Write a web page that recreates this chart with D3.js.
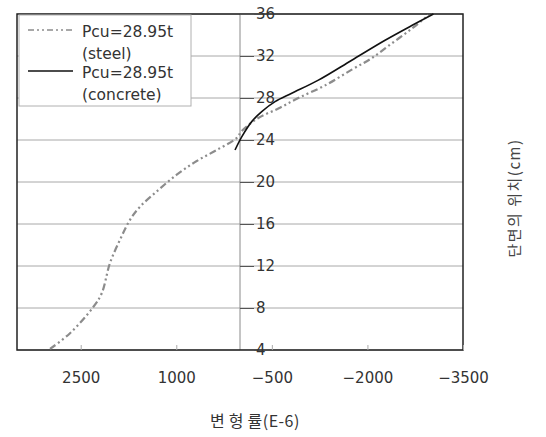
<!DOCTYPE html>
<html><head><meta charset="utf-8">
<script src="https://cdn.jsdelivr.net/npm/d3@7/dist/d3.min.js"></script>
<style>
body{margin:0;background:#fff;}
text{font-family:"DejaVu Sans","Liberation Sans",Arial,sans-serif;}
.kr{font-family:"Noto Sans CJK KR","DejaVu Sans",sans-serif;}
</style></head>
<body><svg id="c" width="546" height="437"></svg>
<script>
const xTicks = [2500, 1000, -500, -2000, -3500];
const yTicks = [4, 8, 12, 16, 20, 24, 28, 32, 36];
const steelStrain = [2982, 2668, 2302, 2170, 2040, 1883, 1726, 1569, 1307, 993, 679, 365, 51, -27, -288, -602, -916, -1335, -1754, -2068, -2382, -2696, -2958];
const steelPos = [4.1, 5.6, 8.1, 9.4, 12.3, 14.5, 16.4, 17.65, 19.1, 20.7, 22.0, 23.05, 24.2, 24.85, 26.1, 27.0, 28.0, 29.2, 30.7, 31.8, 33.2, 34.6, 35.9];
const concStrain = [78, -27, -184, -341, -550, -812, -1230, -1754, -2277, -2696, -3036];
const concPos = [23.05, 24.3, 25.75, 26.7, 27.65, 28.45, 29.7, 31.6, 33.5, 34.9, 36.0];
const legendLabels = [["Pcu=28.95t", "(steel)"], ["Pcu=28.95t", "(concrete)"]];

const svg = d3.select("#c");
const L = 17, R = 463, T = 14, B = 350;
const x = d3.scaleLinear().domain([3500, -3500]).range([L, R]);
const y = d3.scaleLinear().domain([4, 36]).range([B, T]);
const FONT = "DejaVu Sans, Liberation Sans, Arial, sans-serif";

// gridlines
svg.append("g").selectAll("line").data(yTicks).join("line")
  .attr("x1", L).attr("x2", R).attr("y1", d => y(d)).attr("y2", d => y(d))
  .attr("stroke", "#a8a8a8").attr("stroke-width", 1);

// vertical axis at 0
svg.append("line").attr("x1", x(0)).attr("x2", x(0)).attr("y1", T).attr("y2", B)
  .attr("stroke", "#8a8a8a").attr("stroke-width", 1);

// plot border
svg.append("rect").attr("x", L).attr("y", T).attr("width", R - L).attr("height", B - T)
  .attr("fill", "none").attr("stroke", "#222").attr("stroke-width", 1.5);

// y axis ticks + labels at x=0
const yAxis = d3.axisRight(y).tickValues(yTicks).tickSize(14).tickPadding(2).tickFormat(d3.format("d"));
const ya = svg.append("g").attr("transform", `translate(${x(0)},0)`).call(yAxis);
ya.select(".domain").remove();
ya.selectAll(".tick line").attr("stroke", "#555");
ya.selectAll(".tick text").attr("font-size", 15).attr("fill", "#333").attr("font-family", FONT);

// x axis
const xAxis = d3.axisBottom(x).tickValues(xTicks).tickSize(-5).tickPadding(22).tickFormat(d => d < 0 ? "\u2212" + Math.abs(d) : d);
const xa = svg.append("g").attr("transform", `translate(0,${B})`).call(xAxis);
xa.select(".domain").remove();
xa.selectAll(".tick line").attr("stroke", "#aaa");
xa.selectAll(".tick text").attr("font-size", 15).attr("fill", "#333").attr("font-family", FONT);

// curves
const steel = steelStrain.map((v, i) => [v, steelPos[i]]);
const conc = concStrain.map((v, i) => [v, concPos[i]]);
const line = d3.line().x(d => x(d[0])).y(d => y(d[1])).curve(d3.curveCatmullRom.alpha(0.5));
svg.append("path").attr("d", line(steel)).attr("fill", "none")
  .attr("stroke", "#8c8c8c").attr("stroke-width", 2.2).attr("stroke-dasharray", "7,3,2,3,2,3");
svg.append("path").attr("d", line(conc)).attr("fill", "none")
  .attr("stroke", "#111").attr("stroke-width", 1.6);

// legend
const lg = svg.append("g");
lg.append("rect").attr("x", 19).attr("y", 15).attr("width", 172).attr("height", 91)
  .attr("fill", "#fff").attr("stroke", "#b0b0b0").attr("stroke-width", 1);
lg.append("line").attr("x1", 28).attr("x2", 73).attr("y1", 30).attr("y2", 30)
  .attr("stroke", "#8c8c8c").attr("stroke-width", 1.6).attr("stroke-dasharray", "6,3,2,3,2,3");
lg.append("line").attr("x1", 28).attr("x2", 73).attr("y1", 71).attr("y2", 71)
  .attr("stroke", "#111").attr("stroke-width", 1.6);
const ly = [[37, 59], [78, 100]];
legendLabels.forEach((lab, i) => {
  lab.forEach((t, j) => {
    lg.append("text").attr("x", 82).attr("y", ly[i][j]).attr("font-size", 15.5).attr("fill", "#333").text(t);
  });
});

// axis titles
const xt = svg.append("text").attr("class", "kr").attr("x", 255).attr("y", 427).attr("text-anchor", "middle")
  .attr("font-size", 16).attr("fill", "#333");
xt.append("tspan").attr("letter-spacing", 4).text("변형");
xt.append("tspan").attr("letter-spacing", 0.5).text("률(E-6)");
svg.append("text").attr("class", "kr").attr("transform", "translate(520,198) rotate(-90)")
  .attr("text-anchor", "middle").attr("font-size", 15).attr("letter-spacing", 1.5).attr("fill", "#444").text("단면의 위치(cm)");
</script></body></html>
